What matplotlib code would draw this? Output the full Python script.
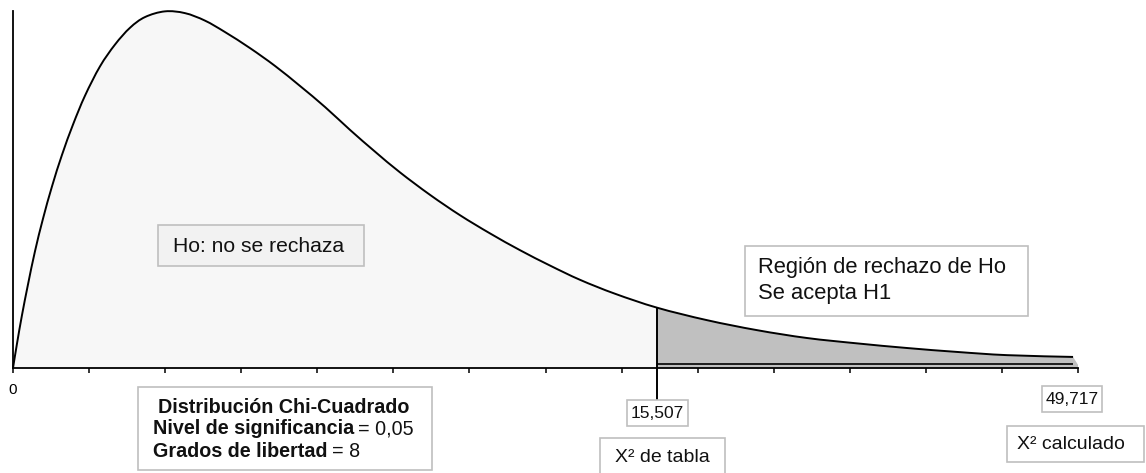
import matplotlib
matplotlib.use("Agg")
import matplotlib.pyplot as plt
from matplotlib.patches import Rectangle, PathPatch
from matplotlib.path import Path

plt.rcParams['font.family'] = ['Liberation Sans', 'DejaVu Sans']

# ---- data ----
# x: position on the drawn axis in tick units (0..14); y: relative density (peak = 100)
curve_x = [0.0, 0.053, 0.118, 0.197, 0.289, 0.394, 0.513, 0.644, 0.789, 0.947,
           1.144, 1.341, 1.538, 1.735, 1.998, 2.261, 2.524, 2.787, 3.116, 3.445,
           3.773, 4.102, 4.430, 4.759, 5.087, 5.482, 5.876, 6.271, 6.665, 7.059,
           7.454, 7.914, 8.466, 9.123, 9.781, 10.438, 11.095, 11.752, 12.410,
           13.067, 13.935]
curve_y = [0.0, 6.9, 14.8, 23.4, 32.7, 41.8, 50.9, 59.7, 68.2, 76.3,
           84.5, 90.6, 95.3, 98.3, 99.9, 99.4, 97.3, 94.1, 89.6, 84.6,
           79.0, 73.1, 66.7, 60.6, 54.8, 48.5, 42.8, 37.7, 33.0, 28.7,
           24.7, 20.8, 16.9, 13.4, 10.6, 8.4, 6.9, 5.6, 4.5,
           3.6, 3.1]
critical_x = 8.466          # where "X² de tabla" sits on the drawn axis
axis_end = 14.0             # where "X² calculado" sits on the drawn axis
tick_positions = list(range(15))
tick_labels = ["0"] + [""] * 14
critical_value = "15,507"
calculated_value = "49,717"
accept_text = "Ho: no se rechaza"
reject_lines = ["Región de rechazo de Ho", "Se acepta H1"]
info_title = "Distribución Chi-Cuadrado"
info_rows = [("Nivel de significancia", "= 0,05"), ("Grados de libertad", "= 8")]
table_label = "X² de tabla"
calc_label = "X² calculado"

W, H = 1146, 473
fig = plt.figure(figsize=(W / 100, H / 100), dpi=100)
fig.patch.set_facecolor("white")


def fx(px):
    return px / W


def fy(py):
    return 1 - py / H


ax = fig.add_axes([fx(13), fy(368), (1078 - 13) / W, (368 - 11) / H])
ax.set_xlim(0, 14)
ax.set_ylim(0, 100)

pts = list(zip(curve_x, curve_y))
n = len(pts)


def smooth_segments(i0, i1):
    """Bezier (smoothed-line) segments through pts[i0..i1], Catmull-Rom style."""
    verts, codes = [], []
    for i in range(i0, i1):
        p0 = pts[max(i - 1, 0)]
        p1 = pts[i]
        p2 = pts[i + 1]
        p3 = pts[min(i + 2, n - 1)]
        c1 = (p1[0] + (p2[0] - p0[0]) / 6, p1[1] + (p2[1] - p0[1]) / 6)
        c2 = (p2[0] - (p3[0] - p1[0]) / 6, p2[1] - (p3[1] - p1[1]) / 6)
        verts += [c1, c2, p2]
        codes += [Path.CURVE4] * 3
    return verts, codes


ic = curve_x.index(critical_x)

# accept region (light)
v, c = smooth_segments(0, ic)
verts = [pts[0]] + v + [(critical_x, 0), (0, 0), (0, 0)]
codes = [Path.MOVETO] + c + [Path.LINETO, Path.LINETO, Path.CLOSEPOLY]
ax.add_patch(PathPatch(Path(verts, codes), facecolor="#f7f7f7", lw=0, zorder=1))

# reject region (gray)
v, c = smooth_segments(ic, n - 1)
verts = [pts[ic]] + v + [(axis_end, 0.9), (axis_end, 0), (critical_x, 0), (critical_x, 0)]
codes = [Path.MOVETO] + c + [Path.LINETO, Path.LINETO, Path.LINETO, Path.CLOSEPOLY]
ax.add_patch(PathPatch(Path(verts, codes), facecolor="#c0c0c0", lw=0, zorder=1))
ax.hlines(1.1, critical_x, curve_x[-1], color="black", lw=1.2, zorder=2)

# curve line
v, c = smooth_segments(0, n - 1)
ax.add_patch(PathPatch(Path([pts[0]] + v, [Path.MOVETO] + c), facecolor="none",
                       edgecolor="black", lw=1.4, zorder=3, clip_on=False))

ax.vlines(critical_x, -9.0, curve_y[ic], color="black", lw=1.4, zorder=3, clip_on=False)

for s in ["top", "right"]:
    ax.spines[s].set_visible(False)
for s in ["left", "bottom"]:
    ax.spines[s].set_color("black")
    ax.spines[s].set_linewidth(1.3)
    ax.spines[s].set_zorder(4)
ax.set_yticks([])
ax.set_xticks(tick_positions)
ax.set_xticklabels(tick_labels, fontsize=11)
ax.tick_params(axis="x", direction="out", length=3.8, width=1.1, color="black", pad=7)
ax.patch.set_alpha(0)

edge = "#bfbfbf"


def box(x0, y0, x1, y1, fc="white"):
    r = Rectangle((fx(x0), fy(y1)), (x1 - x0) / W, (y1 - y0) / H,
                  transform=fig.transFigure, facecolor=fc, edgecolor=edge,
                  lw=1.2, zorder=5, clip_on=False)
    fig.add_artist(r)


def txt(px, py, s, ha="left", size=14, weight="normal"):
    return fig.text(fx(px), fy(py), s, ha=ha, va="center", fontsize=size,
                    fontweight=weight, color="#111111", zorder=6)


# Ho box
box(158, 225, 364, 266, fc="#f2f2f2")
txt(173, 246, accept_text, size=15.2)

# rejection box
box(745, 246, 1028, 316)
txt(758, 268, reject_lines[0], size=15.8)
txt(758, 293, reject_lines[1], size=15.8)

# info box
box(138, 387, 432, 470)
txt(284, 407, info_title, ha="center", size=14.2, weight="bold")
renderer = fig.canvas.get_renderer()
for (bold_part, normal_part), py in zip(info_rows, [429, 451]):
    t = txt(153, py, bold_part, size=14.2, weight="bold")
    bb = t.get_window_extent(renderer)
    fig.text((bb.x1 + 4) / W, fy(py), normal_part, ha="left", va="center",
             fontsize=14.2, color="#111111", zorder=6)

# critical value boxes
box(627, 400, 688, 426)
txt(657.5, 413, critical_value, ha="center", size=12.5)
box(600, 438, 725, 480)
txt(615, 457, table_label, size=14)

box(1042, 386, 1102, 412)
txt(1072, 399, calculated_value, ha="center", size=12.5)
box(1007, 426, 1144, 462)
txt(1017, 444, calc_label, size=14)

fig.savefig("out.png", dpi=100, facecolor="white")
